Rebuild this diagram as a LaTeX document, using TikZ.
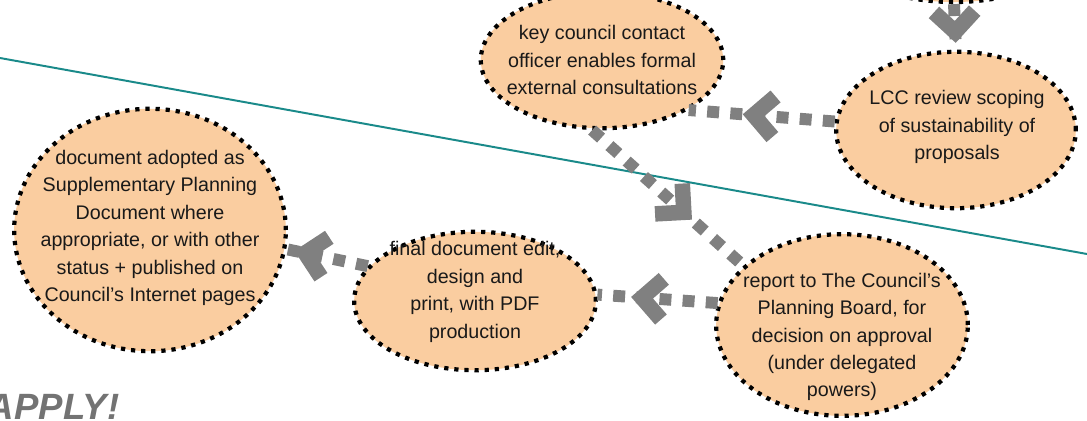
\documentclass[tikz,border=0pt]{standalone}
\usepackage{fontspec}
\setmainfont{Liberation Sans}
\usetikzlibrary{shapes,decorations.markings}
\definecolor{peach}{RGB}{250,205,160}
\definecolor{flowgray}{RGB}{128,128,128}
\definecolor{divteal}{RGB}{26,138,138}
\definecolor{applygray}{RGB}{115,115,115}
\newcommand{\chevron}{\fill[flowgray] (0pt,0pt) -- (-18.4pt,18.4pt) -- (-26.2pt,10.6pt) -- (-15.6pt,0pt) -- (-26.2pt,-10.6pt) -- (-18.4pt,-18.4pt) -- cycle;}
\tikzset{%
stage/.style={ellipse, draw=black, line width=3pt, dash pattern=on 3pt off 4.2pt, fill=peach, inner sep=0pt},
txt/.style={align=center, text=black!90, font=\fontsize{14}{19.5}\selectfont},
flow/.style={draw=flowgray, line width=8.5pt, dash pattern=on 8.5pt off 8pt, postaction={decorate},
  decoration={markings, mark=at position #1 with {\chevron}}},
flow/.default=0.6
}

\begin{document}
\begin{tikzpicture}[x=0.025cm, y=-0.025cm]
		\clip (0,0) rectangle (1087,421);
		\coordinate (divL) at (0,58);
		\coordinate (divR) at (1087,254);
		\draw[divteal, line width=1.4pt] (divL) -- (divR);

		\node[stage, minimum width=6.2cm, minimum height=3.1cm] (prev) at (954,-60) {};
		\node[stage, minimum width=5.99cm, minimum height=3.91cm] (lcc) at (956,130) {};
		\node[stage, minimum width=6.06cm, minimum height=3.41cm] (key) at (602,60) {};
		\node[stage, minimum width=6.29cm, minimum height=4.54cm] (report) at (842,325) {};
		\node[stage, minimum width=6.04cm, minimum height=3.46cm] (final) at (475,301) {};
		\node[stage, minimum width=6.79cm, minimum height=6.06cm] (adopt) at (150,230) {};

		\node[txt] (lcc-t) at (957,127) {LCC review scoping\\of sustainability of\\proposals};
		\node[txt] (key-t) at (602,60) {key council contact\\officer enables formal\\external consultations};
		\node[txt] (report-t) at (842,337) {report to The Council's\\Planning Board, for\\decision on approval\\(under delegated\\powers)};
		\node[txt] (final-t) at (475,292) {final document edit,\\design and\\print, with PDF\\production};
		\node[txt] (adopt-t) at (150,228) {document adopted as\\Supplementary Planning\\Document where\\appropriate, or with other\\status + published on\\Council's Internet pages};

		\draw[flow=0.85] (prev.south) -- (lcc.north);
		\draw[flow=0.63] (lcc.176) -- (key.-30);
		\draw[flow=0.66] (key.-98) -- (report.149);
		\draw[flow=0.72] (report.170) -- (final.3);
		\draw[flow=0.9] (final.162) -- (adopt.-8);

		\node[anchor=base west, text=applygray, font=\fontsize{26}{26}\selectfont\bfseries\itshape] (apply) at (-17,419) {APPLY!};
	\end{tikzpicture}
\end{document}
